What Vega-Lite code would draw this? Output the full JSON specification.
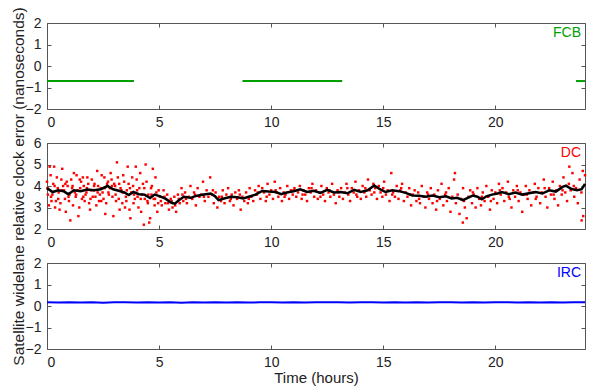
{
  "$schema": "https://vega.github.io/schema/vega-lite/v6.json",
  "padding": {"left": 10, "top": 6, "right": 11, "bottom": 6},
  "background": "white",
  "spacing": 34,
  "bounds": "flush",
  "config": {
    "font": "Liberation Sans",
    "view": {"stroke": "#555555", "strokeWidth": 1},
    "axis": {
      "grid": false,
      "domain": false,
      "tickSize": -4,
      "tickColor": "#555555",
      "labelColor": "#222222",
      "labelFontSize": 14,
      "labelPadding": 10,
      "titleFontSize": 15,
      "titleFontWeight": "normal",
      "titleColor": "#222222",
      "titlePadding": 7
    }
  },
  "datasets": {
    "fcb": [
      {"t": 0, "v": -0.7, "seg": "a"}, {"t": 3.88, "v": -0.7, "seg": "a"},
      {"t": 8.72, "v": -0.7, "seg": "b"}, {"t": 13.17, "v": -0.7, "seg": "b"},
      {"t": 23.6, "v": -0.7, "seg": "c"}, {"t": 24, "v": -0.7, "seg": "c"}
    ],
    "dc": [
      {"t":0.00,"v":4.2},{"t":0.08,"v":3.1},{"t":0.16,"v":4.5},{"t":0.24,"v":3.6},{"t":0.32,"v":4.9},{"t":0.40,"v":3.3},{"t":0.48,"v":3.9},{"t":0.56,"v":2.9},{"t":0.64,"v":4.3},{"t":0.72,"v":4.0},
      {"t":0.80,"v":3.4},{"t":0.88,"v":4.2},{"t":0.96,"v":3.5},{"t":1.04,"v":2.4},{"t":1.12,"v":3.9},{"t":1.20,"v":4.6},{"t":1.28,"v":3.5},{"t":1.36,"v":3.8},{"t":1.44,"v":3.0},{"t":1.52,"v":4.2},
      {"t":1.60,"v":4.4},{"t":1.68,"v":3.3},{"t":1.76,"v":3.7},{"t":1.84,"v":4.1},{"t":1.92,"v":2.9},{"t":2.00,"v":4.3},{"t":2.08,"v":3.8},{"t":2.16,"v":3.5},{"t":2.24,"v":4.7},{"t":2.32,"v":3.3},
      {"t":2.40,"v":3.9},{"t":2.48,"v":3.7},{"t":2.56,"v":4.4},{"t":2.64,"v":3.2},{"t":2.72,"v":4.2},{"t":2.80,"v":3.9},{"t":2.88,"v":4.3},{"t":2.96,"v":2.6},{"t":3.04,"v":4.0},{"t":3.12,"v":5.1},
      {"t":3.20,"v":3.4},{"t":3.28,"v":3.9},{"t":3.36,"v":3.2},{"t":3.44,"v":4.2},{"t":3.52,"v":3.5},{"t":3.60,"v":4.9},{"t":3.68,"v":2.9},{"t":3.76,"v":3.7},{"t":3.84,"v":4.0},{"t":3.92,"v":3.4},
      {"t":4.00,"v":4.3},{"t":4.08,"v":3.0},{"t":4.16,"v":4.6},{"t":4.24,"v":3.6},{"t":4.32,"v":2.2},{"t":4.40,"v":5.0},{"t":4.48,"v":3.3},{"t":4.56,"v":2.3},{"t":4.64,"v":3.9},{"t":4.72,"v":4.8},
      {"t":4.80,"v":3.1},{"t":4.88,"v":3.7},{"t":4.96,"v":3.2},
      {"t":0.04,"v":3.6},{"t":0.12,"v":4.9},{"t":0.20,"v":3.3},{"t":0.28,"v":4.1},{"t":0.36,"v":3.0},{"t":0.44,"v":4.4},{"t":0.52,"v":3.7},{"t":0.60,"v":3.2},{"t":0.68,"v":4.8},{"t":0.76,"v":3.8},
      {"t":0.84,"v":2.8},{"t":0.92,"v":4.0},{"t":1.00,"v":3.6},{"t":1.08,"v":4.3},{"t":1.16,"v":3.1},{"t":1.24,"v":3.7},{"t":1.32,"v":4.5},{"t":1.40,"v":2.6},{"t":1.48,"v":3.9},{"t":1.56,"v":3.4},
      {"t":1.64,"v":4.0},{"t":1.72,"v":3.6},{"t":1.80,"v":4.4},{"t":1.88,"v":3.2},{"t":1.96,"v":3.8},{"t":2.04,"v":3.5},{"t":2.12,"v":4.1},{"t":2.20,"v":3.1},{"t":2.28,"v":4.0},{"t":2.36,"v":3.6},
      {"t":2.44,"v":4.5},{"t":2.52,"v":3.4},{"t":2.60,"v":2.7},{"t":2.68,"v":4.1},{"t":2.76,"v":3.6},{"t":2.84,"v":4.6},{"t":2.92,"v":3.5},{"t":3.00,"v":4.1},{"t":3.08,"v":3.3},{"t":3.16,"v":4.4},
      {"t":3.24,"v":2.9},{"t":3.32,"v":3.8},{"t":3.40,"v":4.5},{"t":3.48,"v":3.0},{"t":3.56,"v":3.8},{"t":3.64,"v":4.1},{"t":3.72,"v":2.5},{"t":3.80,"v":4.4},{"t":3.88,"v":3.6},{"t":3.96,"v":4.9},
      {"t":4.04,"v":3.5},{"t":4.12,"v":3.9},{"t":4.20,"v":2.8},{"t":4.28,"v":4.1},{"t":4.36,"v":3.4},{"t":4.44,"v":4.2},{"t":4.52,"v":3.6},{"t":4.60,"v":2.5},{"t":4.68,"v":4.0},{"t":4.76,"v":3.4},
      {"t":4.84,"v":4.4},{"t":4.92,"v":2.8},
      {"t":0.02,"v":3.9},{"t":0.18,"v":3.5},{"t":0.34,"v":4.0},{"t":0.50,"v":3.4},{"t":0.66,"v":3.8},{"t":0.82,"v":4.1},{"t":0.98,"v":3.3},{"t":1.14,"v":4.0},{"t":1.30,"v":3.6},{"t":1.46,"v":4.3},
      {"t":1.62,"v":3.5},{"t":1.78,"v":3.9},{"t":1.94,"v":3.4},{"t":2.10,"v":4.0},{"t":2.26,"v":3.7},{"t":2.42,"v":3.3},{"t":2.58,"v":3.9},{"t":2.74,"v":3.7},{"t":2.90,"v":4.0},{"t":3.06,"v":3.6},
      {"t":3.22,"v":4.1},{"t":3.38,"v":3.7},{"t":3.54,"v":3.3},{"t":3.70,"v":3.9},{"t":3.86,"v":3.2},{"t":4.02,"v":3.8},{"t":4.18,"v":3.4},{"t":4.34,"v":3.9},{"t":4.50,"v":3.2},{"t":4.66,"v":3.6},
      {"t":4.82,"v":3.4},{"t":4.98,"v":3.8},
      {"t":5.04,"v":3.5},{"t":5.12,"v":3.1},{"t":5.20,"v":3.8},{"t":5.28,"v":3.2},{"t":5.36,"v":3.6},{"t":5.44,"v":2.9},{"t":5.52,"v":3.4},{"t":5.60,"v":3.0},{"t":5.68,"v":3.5},{"t":5.76,"v":2.8},
      {"t":5.84,"v":3.6},{"t":5.92,"v":3.2},{"t":6.00,"v":3.9},{"t":6.08,"v":3.3},
      {"t":5.08,"v":3.3},{"t":5.24,"v":3.5},{"t":5.40,"v":3.2},{"t":5.56,"v":3.3},{"t":5.72,"v":3.1},{"t":5.88,"v":3.4},{"t":6.04,"v":3.6},
      {"t":6.16,"v":3.7},{"t":6.24,"v":3.2},{"t":6.32,"v":3.5},{"t":6.40,"v":4.0},{"t":6.48,"v":3.4},{"t":6.56,"v":3.7},{"t":6.64,"v":3.1},{"t":6.72,"v":3.9},{"t":6.80,"v":3.5},{"t":6.88,"v":3.6},
      {"t":6.96,"v":4.2},{"t":7.04,"v":3.3},{"t":7.12,"v":3.8},{"t":7.20,"v":3.5},{"t":7.28,"v":4.4},{"t":7.36,"v":3.6},{"t":7.44,"v":3.2},{"t":7.52,"v":3.7},{"t":7.60,"v":3.0},{"t":7.68,"v":3.5},
      {"t":7.76,"v":3.3},{"t":7.84,"v":3.8},{"t":7.92,"v":3.2},{"t":8.00,"v":3.6},{"t":8.08,"v":3.9},{"t":8.16,"v":3.3},{"t":8.24,"v":3.6},{"t":8.32,"v":3.1},{"t":8.40,"v":3.7},{"t":8.48,"v":3.4},
      {"t":8.56,"v":3.8},{"t":8.64,"v":2.9},{"t":8.72,"v":3.5},{"t":8.80,"v":3.3},{"t":8.88,"v":3.7},{"t":8.96,"v":3.2},{"t":9.04,"v":3.9},{"t":9.12,"v":3.5},{"t":9.20,"v":3.3},{"t":9.28,"v":3.8},
      {"t":9.36,"v":3.6},{"t":9.44,"v":4.0},{"t":9.52,"v":3.4},{"t":9.60,"v":3.9},{"t":9.68,"v":3.7},{"t":9.76,"v":3.3},{"t":9.84,"v":4.1},{"t":9.92,"v":3.6},{"t":10.00,"v":3.8},{"t":10.08,"v":3.4},
      {"t":10.16,"v":4.2},{"t":10.24,"v":3.7},{"t":10.32,"v":3.5},{"t":10.40,"v":3.9},{"t":10.48,"v":3.3},{"t":10.56,"v":3.7},{"t":10.64,"v":3.6},{"t":10.72,"v":4.0},{"t":10.80,"v":3.4},{"t":10.88,"v":3.8},
      {"t":10.96,"v":3.6},{"t":11.04,"v":3.9},{"t":11.12,"v":3.5},{"t":11.20,"v":3.7},{"t":11.28,"v":4.0},{"t":11.36,"v":3.4},{"t":11.44,"v":3.8},{"t":11.52,"v":3.6},{"t":11.60,"v":3.3},{"t":11.68,"v":3.9},
      {"t":11.76,"v":3.7},{"t":11.84,"v":4.1},{"t":11.92,"v":3.5},{"t":12.00,"v":3.8},{"t":12.08,"v":3.4},{"t":12.16,"v":3.7},{"t":12.24,"v":4.0},{"t":12.32,"v":3.6},{"t":12.40,"v":3.3},{"t":12.48,"v":3.9},
      {"t":12.56,"v":3.7},{"t":12.64,"v":3.5},{"t":12.72,"v":4.1},{"t":12.80,"v":3.6},{"t":12.88,"v":3.2},{"t":12.96,"v":3.8},{"t":13.04,"v":3.5},{"t":13.12,"v":3.9},{"t":13.20,"v":3.4},{"t":13.28,"v":3.7},
      {"t":13.36,"v":4.1},{"t":13.44,"v":3.6},{"t":13.52,"v":3.3},{"t":13.60,"v":3.9},{"t":13.68,"v":3.7},{"t":13.76,"v":4.2},{"t":13.84,"v":3.5},{"t":13.92,"v":3.8},{"t":14.00,"v":3.4},{"t":14.08,"v":4.0},
      {"t":14.16,"v":3.7},{"t":14.24,"v":3.5},{"t":14.32,"v":4.3},{"t":14.40,"v":3.8},{"t":14.48,"v":3.6},{"t":14.56,"v":4.1},{"t":14.64,"v":3.9},{"t":14.72,"v":3.4},{"t":14.80,"v":4.0},{"t":14.88,"v":3.7},
      {"t":14.96,"v":3.5},{"t":15.04,"v":4.2},{"t":15.12,"v":3.6},{"t":15.20,"v":3.8},{"t":15.28,"v":3.3},{"t":15.36,"v":4.6},{"t":15.44,"v":3.7},{"t":15.52,"v":3.5},{"t":15.60,"v":4.0},{"t":15.68,"v":3.4},
      {"t":15.76,"v":3.8},{"t":15.84,"v":4.1},{"t":15.92,"v":3.3},{"t":16.00,"v":3.7},{"t":16.08,"v":3.5},{"t":16.16,"v":3.9},{"t":16.24,"v":3.1},{"t":16.32,"v":3.6},{"t":16.40,"v":3.8},{"t":16.48,"v":3.3},
      {"t":16.56,"v":3.7},{"t":16.64,"v":3.2},{"t":16.72,"v":4.0},{"t":16.80,"v":3.5},{"t":16.88,"v":3.0},{"t":16.96,"v":3.7},{"t":17.04,"v":3.4},{"t":17.12,"v":3.9},{"t":17.20,"v":3.2},{"t":17.28,"v":3.6},
      {"t":17.36,"v":2.9},{"t":17.44,"v":3.8},{"t":17.52,"v":3.4},{"t":17.60,"v":4.1},{"t":17.68,"v":3.1},{"t":17.76,"v":3.6},{"t":17.84,"v":3.3},{"t":17.92,"v":3.9},{"t":18.00,"v":2.8},{"t":18.08,"v":3.5},
      {"t":18.16,"v":4.3},{"t":18.24,"v":3.2},{"t":18.32,"v":3.6},{"t":18.40,"v":2.7},{"t":18.48,"v":3.4},{"t":18.56,"v":3.9},{"t":18.64,"v":3.0},{"t":18.72,"v":2.5},{"t":18.80,"v":3.5},{"t":18.88,"v":3.8},
      {"t":18.96,"v":3.2},{"t":19.04,"v":3.6},{"t":19.12,"v":3.0},{"t":19.20,"v":3.9},{"t":19.28,"v":3.4},{"t":19.36,"v":3.1},{"t":19.44,"v":3.7},{"t":19.52,"v":3.3},{"t":19.60,"v":4.0},{"t":19.68,"v":3.5},
      {"t":19.76,"v":2.9},{"t":19.84,"v":3.8},{"t":19.92,"v":3.4},{"t":20.00,"v":3.7},{"t":20.08,"v":3.2},{"t":20.16,"v":4.1},{"t":20.24,"v":3.6},{"t":20.32,"v":3.9},{"t":20.40,"v":3.3},{"t":20.48,"v":3.7},
      {"t":20.56,"v":4.2},{"t":20.64,"v":3.4},{"t":20.72,"v":3.0},{"t":20.80,"v":3.8},{"t":20.88,"v":3.5},{"t":20.96,"v":4.0},{"t":21.04,"v":3.3},{"t":21.12,"v":3.7},{"t":21.20,"v":2.8},{"t":21.28,"v":3.6},
      {"t":21.36,"v":4.0},{"t":21.44,"v":3.4},{"t":21.52,"v":3.8},{"t":21.60,"v":3.1},{"t":21.68,"v":3.7},{"t":21.76,"v":4.1},{"t":21.84,"v":3.5},{"t":21.92,"v":3.9},{"t":22.00,"v":3.2},{"t":22.08,"v":3.7},
      {"t":22.16,"v":4.3},{"t":22.24,"v":3.5},{"t":22.32,"v":3.0},{"t":22.40,"v":3.9},{"t":22.48,"v":3.6},{"t":22.56,"v":4.2},{"t":22.64,"v":3.4},{"t":22.72,"v":3.8},{"t":22.80,"v":3.1},{"t":22.88,"v":4.0},
      {"t":22.96,"v":3.6},{"t":23.04,"v":4.4},{"t":23.12,"v":3.7},{"t":23.20,"v":3.3},{"t":23.28,"v":4.1},{"t":23.36,"v":3.8},{"t":23.44,"v":4.6},{"t":23.52,"v":3.5},{"t":23.60,"v":3.9},{"t":23.68,"v":3.2},
      {"t":23.76,"v":4.3},{"t":23.84,"v":3.7},{"t":23.92,"v":2.6},{"t":24.00,"v":4.5},
      {"t":6.20,"v":3.4},{"t":6.60,"v":3.6},{"t":7.00,"v":3.5},{"t":7.40,"v":3.8},{"t":7.80,"v":3.5},{"t":8.20,"v":3.4},{"t":8.60,"v":3.6},{"t":9.00,"v":3.4},{"t":9.40,"v":3.7},{"t":9.80,"v":3.5},
      {"t":10.20,"v":3.8},{"t":10.60,"v":3.5},{"t":11.00,"v":3.8},{"t":11.40,"v":3.6},{"t":11.80,"v":3.9},{"t":12.20,"v":3.5},{"t":12.60,"v":3.8},{"t":13.00,"v":3.7},{"t":13.40,"v":3.9},{"t":13.80,"v":3.6},
      {"t":14.20,"v":3.9},{"t":14.60,"v":3.7},{"t":15.00,"v":3.9},{"t":15.40,"v":3.6},{"t":15.80,"v":3.9},{"t":16.20,"v":3.6},{"t":16.60,"v":3.4},{"t":17.00,"v":3.6},{"t":17.40,"v":3.3},{"t":17.80,"v":3.7},
      {"t":18.20,"v":4.6},{"t":18.55,"v":2.3},{"t":18.60,"v":3.3},{"t":19.00,"v":3.7},{"t":19.40,"v":3.5},{"t":19.80,"v":3.3},{"t":20.20,"v":3.8},{"t":20.60,"v":3.5},{"t":21.00,"v":3.8},{"t":21.40,"v":3.6},
      {"t":21.80,"v":3.4},{"t":22.20,"v":3.9},{"t":22.60,"v":3.6},{"t":23.00,"v":3.8},{"t":23.30,"v":4.9},{"t":23.50,"v":4.0},{"t":23.85,"v":2.4},{"t":23.90,"v":4.7}
    ],
    "dcs": [
      {"t":0,"v":3.9},{"t":0.25,"v":3.72},{"t":0.5,"v":3.8},{"t":0.75,"v":3.75},{"t":0.95,"v":3.62},{"t":1.2,"v":3.8},{"t":1.5,"v":3.76},{"t":1.8,"v":3.84},{"t":2.1,"v":3.8},{"t":2.4,"v":3.85},
      {"t":2.7,"v":4.0},{"t":2.95,"v":3.85},{"t":3.2,"v":3.78},{"t":3.45,"v":3.7},{"t":3.65,"v":3.58},{"t":3.85,"v":3.72},{"t":4.1,"v":3.62},{"t":4.35,"v":3.6},{"t":4.6,"v":3.44},{"t":4.8,"v":3.6},
      {"t":5.05,"v":3.52},{"t":5.3,"v":3.4},{"t":5.55,"v":3.22},{"t":5.7,"v":3.18},{"t":5.9,"v":3.35},{"t":6.1,"v":3.5},{"t":6.4,"v":3.45},{"t":6.7,"v":3.55},{"t":7.0,"v":3.6},{"t":7.3,"v":3.65},
      {"t":7.5,"v":3.52},{"t":7.65,"v":3.34},{"t":7.9,"v":3.42},{"t":8.2,"v":3.5},{"t":8.5,"v":3.48},{"t":8.75,"v":3.42},{"t":9.0,"v":3.5},{"t":9.3,"v":3.6},{"t":9.6,"v":3.77},{"t":9.9,"v":3.74},
      {"t":10.2,"v":3.72},{"t":10.45,"v":3.62},{"t":10.7,"v":3.7},{"t":11.0,"v":3.76},{"t":11.3,"v":3.85},{"t":11.6,"v":3.72},{"t":11.9,"v":3.78},{"t":12.2,"v":3.68},{"t":12.5,"v":3.82},{"t":12.8,"v":3.7},
      {"t":13.1,"v":3.72},{"t":13.4,"v":3.66},{"t":13.7,"v":3.82},{"t":14.0,"v":3.72},{"t":14.3,"v":3.8},{"t":14.6,"v":4.02},{"t":14.85,"v":3.85},{"t":15.1,"v":3.72},{"t":15.4,"v":3.8},{"t":15.7,"v":3.76},
      {"t":16.0,"v":3.68},{"t":16.3,"v":3.56},{"t":16.6,"v":3.55},{"t":16.9,"v":3.5},{"t":17.2,"v":3.56},{"t":17.5,"v":3.48},{"t":17.8,"v":3.52},{"t":18.05,"v":3.42},{"t":18.3,"v":3.45},{"t":18.55,"v":3.34},
      {"t":18.8,"v":3.46},{"t":19.0,"v":3.56},{"t":19.2,"v":3.5},{"t":19.4,"v":3.38},{"t":19.6,"v":3.52},{"t":19.85,"v":3.6},{"t":20.1,"v":3.65},{"t":20.3,"v":3.72},{"t":20.6,"v":3.62},{"t":20.9,"v":3.7},
      {"t":21.2,"v":3.6},{"t":21.5,"v":3.66},{"t":21.8,"v":3.72},{"t":22.1,"v":3.65},{"t":22.4,"v":3.8},{"t":22.7,"v":3.74},{"t":23.0,"v":3.96},{"t":23.15,"v":4.02},{"t":23.4,"v":3.86},{"t":23.65,"v":3.8},
      {"t":23.85,"v":3.85},{"t":24.0,"v":4.1}
    ],
    "irc": [
      {"t":0,"v":0.17},{"t":0.5,"v":0.16},{"t":1,"v":0.18},{"t":1.5,"v":0.16},{"t":2,"v":0.17},{"t":2.5,"v":0.15},{"t":3,"v":0.17},{"t":3.5,"v":0.18},{"t":4,"v":0.16},{"t":4.5,"v":0.17},
      {"t":5,"v":0.16},{"t":5.5,"v":0.17},{"t":6,"v":0.15},{"t":6.5,"v":0.17},{"t":7,"v":0.16},{"t":7.5,"v":0.18},{"t":8,"v":0.16},{"t":8.5,"v":0.17},{"t":9,"v":0.16},{"t":9.5,"v":0.17},
      {"t":10,"v":0.18},{"t":10.5,"v":0.16},{"t":11,"v":0.17},{"t":11.5,"v":0.16},{"t":12,"v":0.17},{"t":12.5,"v":0.18},{"t":13,"v":0.17},{"t":13.5,"v":0.16},{"t":14,"v":0.17},{"t":14.5,"v":0.18},
      {"t":15,"v":0.16},{"t":15.5,"v":0.17},{"t":16,"v":0.16},{"t":16.5,"v":0.17},{"t":17,"v":0.16},{"t":17.5,"v":0.17},{"t":18,"v":0.18},{"t":18.5,"v":0.16},{"t":19,"v":0.17},{"t":19.5,"v":0.16},
      {"t":20,"v":0.17},{"t":20.5,"v":0.18},{"t":21,"v":0.16},{"t":21.5,"v":0.17},{"t":22,"v":0.16},{"t":22.5,"v":0.17},{"t":23,"v":0.16},{"t":23.5,"v":0.17},{"t":24,"v":0.17}
    ]
  },
  "vconcat": [
    {
      "width": 538, "height": 86,
      "layer": [
        {
          "data": {"name": "fcb"},
          "mark": {"type": "line", "color": "#00a000", "strokeWidth": 2},
          "encoding": {
            "x": {"field": "t", "type": "quantitative", "scale": {"domain": [0, 24], "nice": false}, "axis": {"values": [0, 5, 10, 15, 20], "title": null}},
            "y": {"field": "v", "type": "quantitative", "scale": {"domain": [-2, 2], "nice": false}, "axis": {"values": [-2, -1, 0, 1, 2], "title": null}},
            "detail": {"field": "seg"}
          }
        },
        {
          "data": {"values": [{"t": 24, "v": 2, "label": "FCB"}]},
          "mark": {"type": "text", "align": "right", "baseline": "top", "dx": -4, "dy": 3, "color": "#00a000", "fontSize": 14},
          "encoding": {
            "x": {"field": "t", "type": "quantitative", "scale": {"domain": [0, 24], "nice": false}, "axis": {"orient": "top", "labels": false, "values": [0, 5, 10, 15, 20], "title": null}},
            "y": {"field": "v", "type": "quantitative", "scale": {"domain": [-2, 2], "nice": false}, "axis": {"orient": "right", "labels": false, "values": [-2, -1, 0, 1, 2], "title": null}},
            "text": {"field": "label"}
          }
        }
      ],
      "resolve": {"axis": {"x": "independent", "y": "independent"}}
    },
    {
      "width": 538, "height": 86,
      "layer": [
        {
          "data": {"name": "dc"},
          "mark": {"type": "square", "color": "#ff0000", "size": 6, "opacity": 1},
          "encoding": {
            "x": {"field": "t", "type": "quantitative", "scale": {"domain": [0, 24], "nice": false}, "axis": {"values": [0, 5, 10, 15, 20], "title": null}},
            "y": {"field": "v", "type": "quantitative", "scale": {"domain": [2, 6], "nice": false}, "axis": {"values": [2, 3, 4, 5, 6], "title": "Satellite widelane relative clock error (nanoseconds)", "titleFontSize": 15.5}}
          }
        },
        {
          "data": {"name": "dcs"},
          "mark": {"type": "line", "color": "#000000", "strokeWidth": 2.5},
          "encoding": {
            "x": {"field": "t", "type": "quantitative", "scale": {"domain": [0, 24], "nice": false}, "axis": null},
            "y": {"field": "v", "type": "quantitative", "scale": {"domain": [2, 6], "nice": false}, "axis": null}
          }
        },
        {
          "data": {"values": [{"t": 24, "v": 6, "label": "DC"}]},
          "mark": {"type": "text", "align": "right", "baseline": "top", "dx": -4, "dy": 3, "color": "#ff0000", "fontSize": 14},
          "encoding": {
            "x": {"field": "t", "type": "quantitative", "scale": {"domain": [0, 24], "nice": false}, "axis": {"orient": "top", "labels": false, "values": [0, 5, 10, 15, 20], "title": null}},
            "y": {"field": "v", "type": "quantitative", "scale": {"domain": [2, 6], "nice": false}, "axis": {"orient": "right", "labels": false, "values": [2, 3, 4, 5, 6], "title": null}},
            "text": {"field": "label"}
          }
        }
      ],
      "resolve": {"axis": {"x": "independent", "y": "independent"}}
    },
    {
      "width": 538, "height": 86,
      "layer": [
        {
          "data": {"name": "irc"},
          "mark": {"type": "line", "color": "#0000ff", "strokeWidth": 2},
          "encoding": {
            "x": {"field": "t", "type": "quantitative", "scale": {"domain": [0, 24], "nice": false}, "axis": {"values": [0, 5, 10, 15, 20], "title": "Time (hours)", "titlePadding": 1}},
            "y": {"field": "v", "type": "quantitative", "scale": {"domain": [-2, 2], "nice": false}, "axis": {"values": [-2, -1, 0, 1, 2], "title": null}}
          }
        },
        {
          "data": {"values": [{"t": 24, "v": 2, "label": "IRC"}]},
          "mark": {"type": "text", "align": "right", "baseline": "top", "dx": -4, "dy": 3, "color": "#0000ff", "fontSize": 14},
          "encoding": {
            "x": {"field": "t", "type": "quantitative", "scale": {"domain": [0, 24], "nice": false}, "axis": {"orient": "top", "labels": false, "values": [0, 5, 10, 15, 20], "title": null}},
            "y": {"field": "v", "type": "quantitative", "scale": {"domain": [-2, 2], "nice": false}, "axis": {"orient": "right", "labels": false, "values": [-2, -1, 0, 1, 2], "title": null}},
            "text": {"field": "label"}
          }
        }
      ],
      "resolve": {"axis": {"x": "independent", "y": "independent"}}
    }
  ]
}
